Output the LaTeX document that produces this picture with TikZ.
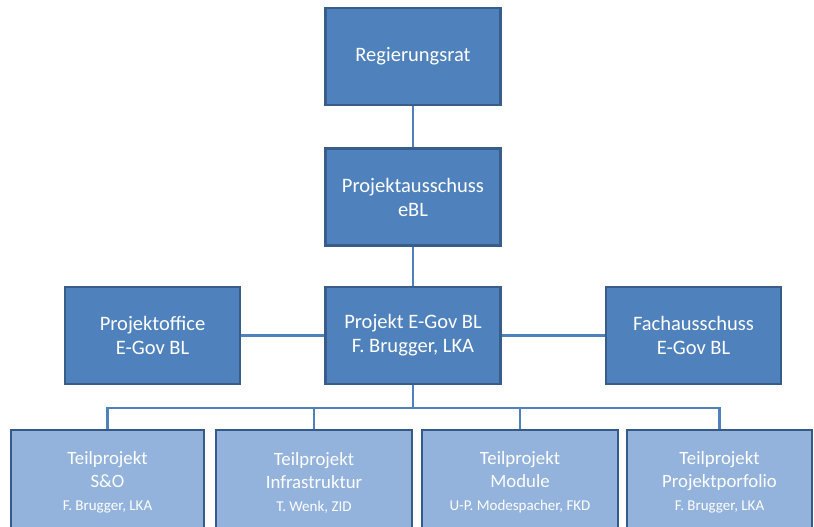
\documentclass[tikz,border=0pt]{standalone}
\usepackage{fontspec}
\setmainfont{Carlito}
\definecolor{boxfill}{HTML}{4F81BD}
\definecolor{boxline}{HTML}{385D8A}
\definecolor{subfill}{HTML}{93B3DC}
\definecolor{subline}{HTML}{34598A}
\definecolor{conn}{HTML}{4F81BD}
\tikzset{
  mainbox/.style={draw=boxline, line width=2.3pt, fill=boxfill, text=white,
    minimum width=175pt, minimum height=97pt, align=center, inner sep=0pt,
    font=\fontsize{20.5pt}{24pt}\selectfont},
  subbox/.style={draw=subline, line width=2.5pt, fill=subfill, text=white,
    minimum height=105pt, align=center, inner sep=0pt,
    font=\fontsize{18.8pt}{23pt}\selectfont},
  connector/.style={draw=conn, line width=2.3pt}
}
\newcommand{\lineC}[1]{{\fontsize{15pt}{23pt}\selectfont #1}}
\begin{document}
\begin{tikzpicture}[x=1pt,y=-1pt]
\useasboundingbox (0,0) rectangle (814,527);
\clip (0,0) rectangle (814,527);
\node[mainbox] (rr) at (413,56.5) {Regierungsrat};
\node[mainbox] (pa) at (413,197) {Projektausschuss\\eBL};
\node[mainbox] (pe) at (413,335.5) {Projekt E-Gov BL\\F. Brugger, LKA};
\node[mainbox] (po) at (152.5,335.5) {Projektoffice\\E-Gov BL};
\node[mainbox] (fa) at (693.5,335.5) {Fachausschuss\\E-Gov BL};
\node[subbox, minimum width=193pt] (t1) at (107.5,482.5) {Teilprojekt\\S\&O\\\lineC{F. Brugger, LKA}};
\node[subbox, minimum width=196pt] (t2) at (314,482.5) {Teilprojekt\\Infrastruktur\\\lineC{T. Wenk, ZID}};
\node[subbox, minimum width=196pt] (t3) at (520,482.5) {Teilprojekt\\Module\\\lineC{U-P. Modespacher, FKD}};
\node[subbox, minimum width=185pt] (t4) at (719.5,482.5) {Teilprojekt\\Projektporfolio\\\lineC{F. Brugger, LKA}};
\draw[connector] (rr.south) -- (pa.north);
\draw[connector] (pa.south) -- (pe.north);
\draw[connector] (po.east) -- (pe.west);
\draw[connector] (pe.east) -- (fa.west);
\draw[connector] (pe.south) -- ++(0,-23pt) -| (t1.north);
\draw[connector] (pe.south) -- ++(0,-23pt) -| (t2.north);
\draw[connector] (pe.south) -- ++(0,-23pt) -| (t3.north);
\draw[connector] (pe.south) -- ++(0,-23pt) -| (t4.north);
\end{tikzpicture}
\end{document}
